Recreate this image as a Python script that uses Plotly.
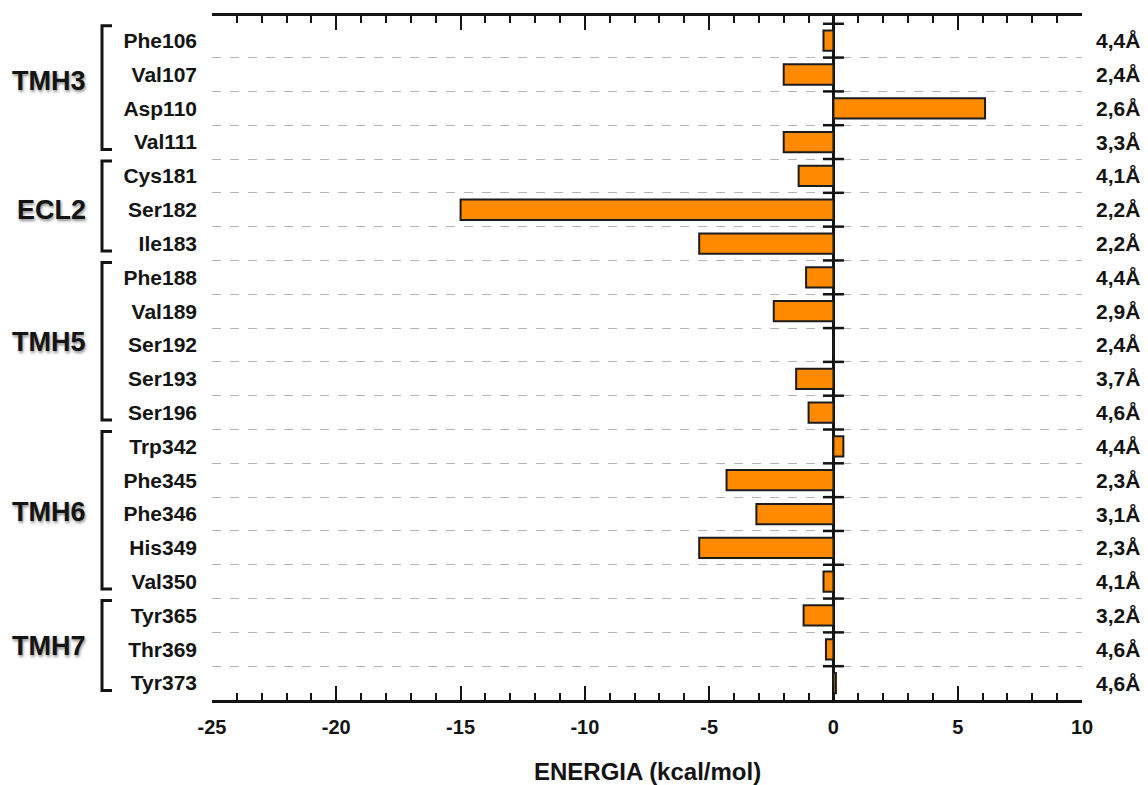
import plotly.graph_objects as go

# Residue-level interaction energies (kcal/mol) and contact distances
residues = ["Phe106", "Val107", "Asp110", "Val111",
            "Cys181", "Ser182", "Ile183",
            "Phe188", "Val189", "Ser192", "Ser193", "Ser196",
            "Trp342", "Phe345", "Phe346", "His349", "Val350",
            "Tyr365", "Thr369", "Tyr373"]
energy = [-0.4, -2.0, 6.1, -2.0,
          -1.4, -15.0, -5.4,
          -1.1, -2.4, 0.0, -1.5, -1.0,
          0.4, -4.3, -3.1, -5.4, -0.4,
          -1.2, -0.3, 0.1]
distance = ["4,4Å", "2,4Å", "2,6Å", "3,3Å",
            "4,1Å", "2,2Å", "2,2Å",
            "4,4Å", "2,9Å", "2,4Å", "3,7Å", "4,6Å",
            "4,4Å", "2,3Å", "3,1Å", "2,3Å", "4,1Å",
            "3,2Å", "4,6Å", "4,6Å"]
# Structural regions: (name, first residue index, last residue index, label row)
regions = [("TMH3", 0, 3, 1.2), ("ECL2", 4, 6, 5.0), ("TMH5", 7, 11, 8.9),
           ("TMH6", 12, 16, 13.95), ("TMH7", 17, 19, 17.9)]
x_ticks = [-25, -20, -15, -10, -5, 0, 5, 10]
x_tick_text = ["-25", "-20", "-15", "-10", "-5", "0", "5", "10"]
x_title = "ENERGIA (kcal/mol)"

W, H = 1148, 785
ML, MR, MT, MB = 212, 66, 16, 85
PW = W - ML - MR
Y_TOP, Y_BOT = -0.73, len(residues) - 0.5

rows = list(range(len(residues)))
bounds = [i - 0.5 for i in rows]

FONT = "Liberation Sans, Arial, sans-serif"
INK = "#141414"

fig = go.Figure()
fig.add_trace(go.Bar(
    x=energy, y=rows, orientation="h", width=0.6,
    marker=dict(color="#FF8A00", line=dict(color="#1c1c1c", width=2)),
    hoverinfo="x+y", showlegend=False,
))
# small cross ticks on the zero axis at every row boundary
fig.add_trace(go.Scatter(
    x=[0] * len(bounds), y=bounds, mode="markers",
    marker=dict(symbol="line-ew", size=15, line=dict(color=INK, width=2.5)),
    hoverinfo="skip", showlegend=False, cliponaxis=False,
))

fig.update_xaxes(
    range=[x_ticks[0], x_ticks[-1]], tickvals=x_ticks, ticktext=x_tick_text,
    showline=True, linecolor=INK, linewidth=2.5, mirror="ticks",
    ticks="inside", ticklen=14, tickwidth=2, tickcolor=INK,
    minor=dict(dtick=1, ticks="inside", ticklen=7, tickwidth=2, tickcolor=INK),
    showgrid=False, zeroline=True, zerolinecolor=INK, zerolinewidth=2.5,
    tickfont=dict(family=FONT, size=20, color=INK, weight="bold"),
    ticklabelstandoff=7, automargin=False,
)
fig.update_yaxes(
    range=[Y_BOT, Y_TOP], tickvals=rows, ticktext=residues,
    showline=False, ticks="", showgrid=False, zeroline=False,
    tickfont=dict(family=FONT, size=21, color=INK, weight="bold"),
    ticklabelstandoff=14, automargin=False,
    minor=dict(tickvals=[b + 1 for b in bounds[:-1]], showgrid=True,
               gridcolor="#b4b4b4", griddash="dash", gridwidth=1.3, ticks=""),
)

annotations = [dict(
    x=0.5, xref="paper", y=0, yref="paper", text=x_title, showarrow=False,
    xanchor="center", yanchor="middle", yshift=-71,
    font=dict(family=FONT, size=24, color=INK, weight="bold"))]
for i, d in enumerate(distance):
    annotations.append(dict(
        x=1, xref="paper", y=i, yref="y", text=d, showarrow=False,
        xanchor="left", xshift=12,
        font=dict(family=FONT, size=21, color=INK, weight="bold")))

shapes = []
bx0 = (102 - ML) / PW
bx1 = (112 - ML) / PW
for name, first, last, label_row in regions:
    y0, y1 = first - 0.44, last + 0.22
    shapes.append(dict(
        type="path", xref="paper", yref="y",
        path=f"M {bx1},{y0} L {bx0},{y0} L {bx0},{y1} L {bx1},{y1}",
        line=dict(color=INK, width=3)))
    annotations.append(dict(
        x=0, xref="paper", y=label_row, yref="y", text=name, showarrow=False,
        xanchor="right", xshift=-124,
        font=dict(family=FONT, size=27, color=INK, weight="bold",
                  shadow="1px 2px 3px rgba(0,0,0,0.45)")))

fig.update_layout(
    width=W, height=H, margin=dict(l=ML, r=MR, t=MT, b=MB),
    plot_bgcolor="white", paper_bgcolor="white", bargap=0.4,
    annotations=annotations, shapes=shapes,
)

fig.write_html("out.html")
